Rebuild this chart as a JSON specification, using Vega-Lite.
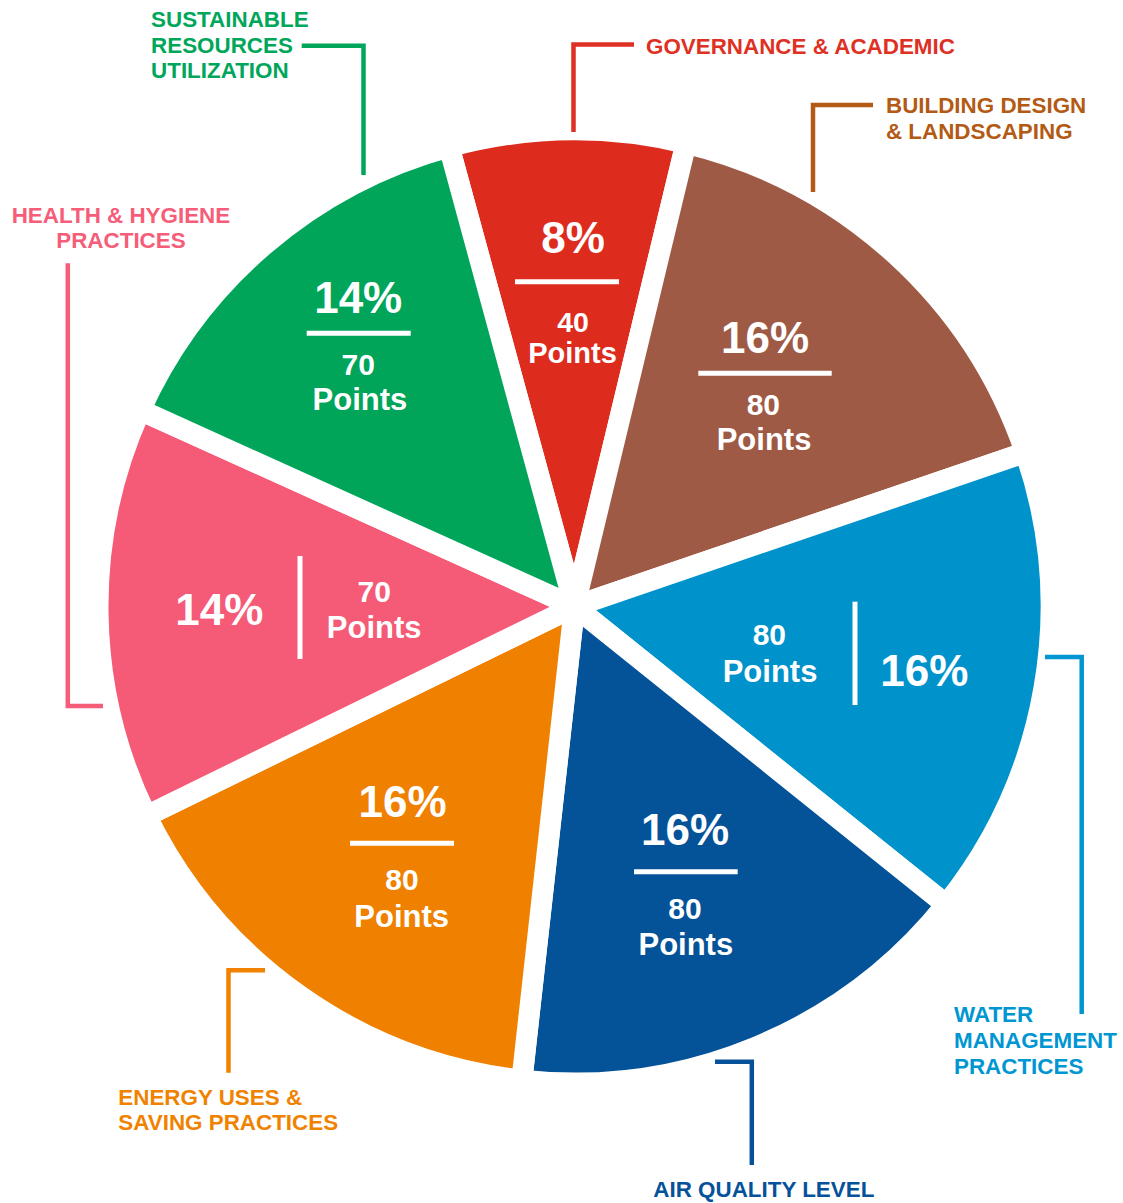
{
  "$schema": "https://vega.github.io/schema/vega-lite/v6.json",
  "width": 1097,
  "height": 1193,
  "padding": {"left": 26, "top": 10, "right": 0, "bottom": 0},
  "autosize": "none",
  "background": "white",
  "config": {"view": {"stroke": null}},
  "data": {"values": [
    {"order": 1, "category": "GOVERNANCE & ACADEMIC", "points": 40, "share": 0.08},
    {"order": 2, "category": "BUILDING DESIGN\n& LANDSCAPING", "points": 80, "share": 0.16},
    {"order": 3, "category": "WATER\nMANAGEMENT\nPRACTICES", "points": 80, "share": 0.16},
    {"order": 4, "category": "AIR QUALITY LEVEL", "points": 80, "share": 0.16},
    {"order": 5, "category": "ENERGY USES &\nSAVING PRACTICES", "points": 80, "share": 0.16},
    {"order": 6, "category": "HEALTH & HYGIENE\nPRACTICES", "points": 70, "share": 0.14},
    {"order": 7, "category": "SUSTAINABLE\nRESOURCES\nUTILIZATION", "points": 70, "share": 0.14}
  ]},
  "resolve": {"scale": {"shape": "independent"}},
  "layer": [
    {
      "mark": {"type": "arc", "outerRadius": 476.5, "stroke": "white", "strokeWidth": 21, "strokeJoin": "round"},
      "encoding": {
        "theta": {"field": "points", "type": "quantitative", "stack": true, "scale": {"domain": [0, 500], "range": [-0.26634, 6.01685]}},
        "order": {"field": "order", "type": "quantitative"},
        "color": {"field": "category", "type": "nominal", "legend": null,
          "scale": {"domain": ["GOVERNANCE & ACADEMIC", "BUILDING DESIGN\n& LANDSCAPING", "WATER\nMANAGEMENT\nPRACTICES", "AIR QUALITY LEVEL", "ENERGY USES &\nSAVING PRACTICES", "HEALTH & HYGIENE\nPRACTICES", "SUSTAINABLE\nRESOURCES\nUTILIZATION"],
            "range": ["#DD2C1E", "#9E5A45", "#0093CB", "#045298", "#F08000", "#F55A77", "#00A55A"]}}
      }
    },
    {
      "mark": {"type": "point", "filled": false, "size": 4, "opacity": 1, "stroke": "white", "strokeWidth": 5, "strokeCap": "butt"},
      "encoding": {
        "shape": {"field": "category", "type": "nominal", "legend": null,
          "scale": {"domain": ["GOVERNANCE & ACADEMIC", "BUILDING DESIGN\n& LANDSCAPING", "WATER\nMANAGEMENT\nPRACTICES", "AIR QUALITY LEVEL", "ENERGY USES &\nSAVING PRACTICES", "HEALTH & HYGIENE\nPRACTICES", "SUSTAINABLE\nRESOURCES\nUTILIZATION"],
            "range": ["M-59.5,-324.8H44.5", "M123.8,-233.2H257.2", "M280.5,-4.8V98.5", "M59.5,265.2H163.2", "M-224.5,236.8H-120.5", "M-274.5,-50.5V52.5", "M-267.8,-273.2H-163.8"]}}
      }
    },
    {
      "mark": {"type": "point", "filled": false, "size": 4, "opacity": 1, "strokeWidth": 4.5, "strokeCap": "butt", "strokeJoin": "miter"},
      "encoding": {
        "shape": {"field": "category", "type": "nominal", "legend": null,
          "scale": {"domain": ["GOVERNANCE & ACADEMIC", "BUILDING DESIGN\n& LANDSCAPING", "WATER\nMANAGEMENT\nPRACTICES", "AIR QUALITY LEVEL", "ENERGY USES &\nSAVING PRACTICES", "HEALTH & HYGIENE\nPRACTICES", "SUSTAINABLE\nRESOURCES\nUTILIZATION"],
            "range": ["M-1,-474.5V-562H59.5", "M238.5,-414.5V-501.5H298.5", "M470.5,50.5H507.2V407.5", "M140.5,455.3H177.3V558.5", "M-309.5,363.7H-346V466.2", "M-471.5,99.5H-506.7V-343.2", "M-211,-431.5V-560.7H-272.8"]}},
        "stroke": {"field": "category", "type": "nominal", "legend": null,
          "scale": {"domain": ["GOVERNANCE & ACADEMIC", "BUILDING DESIGN\n& LANDSCAPING", "WATER\nMANAGEMENT\nPRACTICES", "AIR QUALITY LEVEL", "ENERGY USES &\nSAVING PRACTICES", "HEALTH & HYGIENE\nPRACTICES", "SUSTAINABLE\nRESOURCES\nUTILIZATION"],
            "range": ["#DE3023", "#B35A14", "#0096D1", "#06529A", "#F08200", "#F55D79", "#00A65A"]}}
      }
    },

    {"mark": {"type": "text", "font": "Liberation Sans", "fontWeight": "bold", "fill": "white", "align": "center", "baseline": "alphabetic", "fontSize": 44, "radius": 300, "dx": 3, "dy": -53.2},
     "encoding": {"theta": {"field": "points", "type": "quantitative", "stack": true}, "order": {"field": "order", "type": "quantitative"},
       "text": {"condition": {"test": "datum.order === 1", "field": "share", "type": "quantitative", "format": ".0%"}, "value": ""}}},
    {"mark": {"type": "text", "font": "Liberation Sans", "fontWeight": "bold", "fill": "white", "align": "center", "baseline": "alphabetic", "fontSize": 28.5, "radius": 300, "dx": 3, "dy": 25.2},
     "encoding": {"theta": {"field": "points", "type": "quantitative", "stack": true}, "order": {"field": "order", "type": "quantitative"},
       "text": {"condition": {"test": "datum.order === 1", "field": "points", "type": "quantitative"}, "value": ""}}},
    {"mark": {"type": "text", "font": "Liberation Sans", "fontWeight": "bold", "fill": "white", "align": "center", "baseline": "alphabetic", "fontSize": 29, "radius": 300, "dx": 2.5, "dy": 56.8},
     "encoding": {"theta": {"field": "points", "type": "quantitative", "stack": true}, "order": {"field": "order", "type": "quantitative"},
       "text": {"condition": {"test": "datum.order === 1", "value": "Points"}, "value": ""}}},

    {"mark": {"type": "text", "font": "Liberation Sans", "fontWeight": "bold", "fill": "white", "align": "center", "baseline": "alphabetic", "fontSize": 44, "radius": 290, "dx": -4.8, "dy": -38.9},
     "encoding": {"theta": {"field": "points", "type": "quantitative", "stack": true}, "order": {"field": "order", "type": "quantitative"},
       "text": {"condition": {"test": "datum.order === 2", "field": "share", "type": "quantitative", "format": ".0%"}, "value": ""}}},
    {"mark": {"type": "text", "font": "Liberation Sans", "fontWeight": "bold", "fill": "white", "align": "center", "baseline": "alphabetic", "fontSize": 30, "radius": 290, "dx": -6.5, "dy": 22.8},
     "encoding": {"theta": {"field": "points", "type": "quantitative", "stack": true}, "order": {"field": "order", "type": "quantitative"},
       "text": {"condition": {"test": "datum.order === 2", "field": "points", "type": "quantitative"}, "value": ""}}},
    {"mark": {"type": "text", "font": "Liberation Sans", "fontWeight": "bold", "fill": "white", "align": "center", "baseline": "alphabetic", "fontSize": 31, "radius": 290, "dx": -5.8, "dy": 57.8},
     "encoding": {"theta": {"field": "points", "type": "quantitative", "stack": true}, "order": {"field": "order", "type": "quantitative"},
       "text": {"condition": {"test": "datum.order === 2", "value": "Points"}, "value": ""}}},

    {"mark": {"type": "text", "font": "Liberation Sans", "fontWeight": "bold", "fill": "white", "align": "center", "baseline": "alphabetic", "fontSize": 44, "radius": 285, "dx": 69, "dy": 30},
     "encoding": {"theta": {"field": "points", "type": "quantitative", "stack": true}, "order": {"field": "order", "type": "quantitative"},
       "text": {"condition": {"test": "datum.order === 3", "field": "share", "type": "quantitative", "format": ".0%"}, "value": ""}}},
    {"mark": {"type": "text", "font": "Liberation Sans", "fontWeight": "bold", "fill": "white", "align": "center", "baseline": "alphabetic", "fontSize": 30, "radius": 285, "dx": -85.9, "dy": -10.7},
     "encoding": {"theta": {"field": "points", "type": "quantitative", "stack": true}, "order": {"field": "order", "type": "quantitative"},
       "text": {"condition": {"test": "datum.order === 3", "field": "points", "type": "quantitative"}, "value": ""}}},
    {"mark": {"type": "text", "font": "Liberation Sans", "fontWeight": "bold", "fill": "white", "align": "center", "baseline": "alphabetic", "fontSize": 31, "radius": 285, "dx": -85.2, "dy": 26.6},
     "encoding": {"theta": {"field": "points", "type": "quantitative", "stack": true}, "order": {"field": "order", "type": "quantitative"},
       "text": {"condition": {"test": "datum.order === 3", "value": "Points"}, "value": ""}}},

    {"mark": {"type": "text", "font": "Liberation Sans", "fontWeight": "bold", "fill": "white", "align": "center", "baseline": "alphabetic", "fontSize": 44, "radius": 300, "dx": -4.1, "dy": -38.8},
     "encoding": {"theta": {"field": "points", "type": "quantitative", "stack": true}, "order": {"field": "order", "type": "quantitative"},
       "text": {"condition": {"test": "datum.order === 4", "field": "share", "type": "quantitative", "format": ".0%"}, "value": ""}}},
    {"mark": {"type": "text", "font": "Liberation Sans", "fontWeight": "bold", "fill": "white", "align": "center", "baseline": "alphabetic", "fontSize": 30, "radius": 300, "dx": -4.1, "dy": 35.2},
     "encoding": {"theta": {"field": "points", "type": "quantitative", "stack": true}, "order": {"field": "order", "type": "quantitative"},
       "text": {"condition": {"test": "datum.order === 4", "field": "points", "type": "quantitative"}, "value": ""}}},
    {"mark": {"type": "text", "font": "Liberation Sans", "fontWeight": "bold", "fill": "white", "align": "center", "baseline": "alphabetic", "fontSize": 31, "radius": 300, "dx": -3.3, "dy": 71.2},
     "encoding": {"theta": {"field": "points", "type": "quantitative", "stack": true}, "order": {"field": "order", "type": "quantitative"},
       "text": {"condition": {"test": "datum.order === 4", "value": "Points"}, "value": ""}}},

    {"mark": {"type": "text", "font": "Liberation Sans", "fontWeight": "bold", "fill": "white", "align": "center", "baseline": "alphabetic", "fontSize": 44, "radius": 300, "dx": 0.7, "dy": -35.1},
     "encoding": {"theta": {"field": "points", "type": "quantitative", "stack": true}, "order": {"field": "order", "type": "quantitative"},
       "text": {"condition": {"test": "datum.order === 5", "field": "share", "type": "quantitative", "format": ".0%"}, "value": ""}}},
    {"mark": {"type": "text", "font": "Liberation Sans", "fontWeight": "bold", "fill": "white", "align": "center", "baseline": "alphabetic", "fontSize": 30, "radius": 300, "dx": 0.2, "dy": 38.2},
     "encoding": {"theta": {"field": "points", "type": "quantitative", "stack": true}, "order": {"field": "order", "type": "quantitative"},
       "text": {"condition": {"test": "datum.order === 5", "field": "points", "type": "quantitative"}, "value": ""}}},
    {"mark": {"type": "text", "font": "Liberation Sans", "fontWeight": "bold", "fill": "white", "align": "center", "baseline": "alphabetic", "fontSize": 31, "radius": 300, "dx": -0.1, "dy": 74.9},
     "encoding": {"theta": {"field": "points", "type": "quantitative", "stack": true}, "order": {"field": "order", "type": "quantitative"},
       "text": {"condition": {"test": "datum.order === 5", "value": "Points"}, "value": ""}}},

    {"mark": {"type": "text", "font": "Liberation Sans", "fontWeight": "bold", "fill": "white", "align": "center", "baseline": "alphabetic", "fontSize": 44, "radius": 275, "dx": -80.3, "dy": 14.4},
     "encoding": {"theta": {"field": "points", "type": "quantitative", "stack": true}, "order": {"field": "order", "type": "quantitative"},
       "text": {"condition": {"test": "datum.order === 6", "field": "share", "type": "quantitative", "format": ".0%"}, "value": ""}}},
    {"mark": {"type": "text", "font": "Liberation Sans", "fontWeight": "bold", "fill": "white", "align": "center", "baseline": "alphabetic", "fontSize": 30, "radius": 275, "dx": 74.7, "dy": -8.9},
     "encoding": {"theta": {"field": "points", "type": "quantitative", "stack": true}, "order": {"field": "order", "type": "quantitative"},
       "text": {"condition": {"test": "datum.order === 6", "field": "points", "type": "quantitative"}, "value": ""}}},
    {"mark": {"type": "text", "font": "Liberation Sans", "fontWeight": "bold", "fill": "white", "align": "center", "baseline": "alphabetic", "fontSize": 31, "radius": 275, "dx": 74.7, "dy": 27.7},
     "encoding": {"theta": {"field": "points", "type": "quantitative", "stack": true}, "order": {"field": "order", "type": "quantitative"},
       "text": {"condition": {"test": "datum.order === 6", "value": "Points"}, "value": ""}}},

    {"mark": {"type": "text", "font": "Liberation Sans", "fontWeight": "bold", "fill": "white", "align": "center", "baseline": "alphabetic", "fontSize": 44, "radius": 335, "dx": 1.1, "dy": -38.3},
     "encoding": {"theta": {"field": "points", "type": "quantitative", "stack": true}, "order": {"field": "order", "type": "quantitative"},
       "text": {"condition": {"test": "datum.order === 7", "field": "share", "type": "quantitative", "format": ".0%"}, "value": ""}}},
    {"mark": {"type": "text", "font": "Liberation Sans", "fontWeight": "bold", "fill": "white", "align": "center", "baseline": "alphabetic", "fontSize": 30, "radius": 335, "dx": 1.1, "dy": 23.4},
     "encoding": {"theta": {"field": "points", "type": "quantitative", "stack": true}, "order": {"field": "order", "type": "quantitative"},
       "text": {"condition": {"test": "datum.order === 7", "field": "points", "type": "quantitative"}, "value": ""}}},
    {"mark": {"type": "text", "font": "Liberation Sans", "fontWeight": "bold", "fill": "white", "align": "center", "baseline": "alphabetic", "fontSize": 31, "radius": 335, "dx": 2.8, "dy": 58.4},
     "encoding": {"theta": {"field": "points", "type": "quantitative", "stack": true}, "order": {"field": "order", "type": "quantitative"},
       "text": {"condition": {"test": "datum.order === 7", "value": "Points"}, "value": ""}}},

    {"mark": {"type": "text", "font": "Liberation Sans", "fontWeight": "bold", "fontSize": 22.4, "lineBreak": "\n", "lineHeight": 26, "baseline": "alphabetic", "align": "left", "fill": "#DE3023", "radius": 500, "dx": 79, "dy": -52.5},
     "encoding": {"theta": {"field": "points", "type": "quantitative", "stack": true}, "order": {"field": "order", "type": "quantitative"},
       "text": {"condition": {"test": "datum.order === 1", "field": "category", "type": "nominal"}, "value": ""}}},
    {"mark": {"type": "text", "font": "Liberation Sans", "fontWeight": "bold", "fontSize": 22.4, "lineBreak": "\n", "lineHeight": 26, "baseline": "alphabetic", "align": "left", "fill": "#B35A14", "radius": 500, "dx": -25.3, "dy": -123.9},
     "encoding": {"theta": {"field": "points", "type": "quantitative", "stack": true}, "order": {"field": "order", "type": "quantitative"},
       "text": {"condition": {"test": "datum.order === 2", "field": "category", "type": "nominal"}, "value": ""}}},
    {"mark": {"type": "text", "font": "Liberation Sans", "fontWeight": "bold", "fontSize": 22.4, "lineBreak": "\n", "lineHeight": 25.8, "baseline": "alphabetic", "align": "left", "fill": "#0096D1", "radius": 500, "dx": -113, "dy": 329.5},
     "encoding": {"theta": {"field": "points", "type": "quantitative", "stack": true}, "order": {"field": "order", "type": "quantitative"},
       "text": {"condition": {"test": "datum.order === 3", "field": "category", "type": "nominal"}, "value": ""}}},
    {"mark": {"type": "text", "font": "Liberation Sans", "fontWeight": "bold", "fontSize": 22.4, "lineBreak": "\n", "lineHeight": 26, "baseline": "alphabetic", "align": "left", "fill": "#06529A", "radius": 500, "dx": -112.2, "dy": 128.1},
     "encoding": {"theta": {"field": "points", "type": "quantitative", "stack": true}, "order": {"field": "order", "type": "quantitative"},
       "text": {"condition": {"test": "datum.order === 4", "field": "category", "type": "nominal"}, "value": ""}}},
    {"mark": {"type": "text", "font": "Liberation Sans", "fontWeight": "bold", "fontSize": 22.4, "lineBreak": "\n", "lineHeight": 25, "baseline": "alphabetic", "align": "left", "fill": "#F08200", "radius": 500, "dx": -168.4, "dy": 89.6},
     "encoding": {"theta": {"field": "points", "type": "quantitative", "stack": true}, "order": {"field": "order", "type": "quantitative"},
       "text": {"condition": {"test": "datum.order === 5", "field": "category", "type": "nominal"}, "value": ""}}},
    {"mark": {"type": "text", "font": "Liberation Sans", "fontWeight": "bold", "fontSize": 22.4, "lineBreak": "\n", "lineHeight": 25.6, "baseline": "alphabetic", "align": "center", "fill": "#F55D79", "radius": 500, "dx": 46.4, "dy": -391.3},
     "encoding": {"theta": {"field": "points", "type": "quantitative", "stack": true}, "order": {"field": "order", "type": "quantitative"},
       "text": {"condition": {"test": "datum.order === 6", "field": "category", "type": "nominal"}, "value": ""}}},
    {"mark": {"type": "text", "font": "Liberation Sans", "fontWeight": "bold", "fontSize": 22.4, "lineBreak": "\n", "lineHeight": 25.8, "baseline": "alphabetic", "align": "left", "fill": "#00A65A", "radius": 500, "dx": -99, "dy": -199.3},
     "encoding": {"theta": {"field": "points", "type": "quantitative", "stack": true}, "order": {"field": "order", "type": "quantitative"},
       "text": {"condition": {"test": "datum.order === 7", "field": "category", "type": "nominal"}, "value": ""}}}
  ]
}
